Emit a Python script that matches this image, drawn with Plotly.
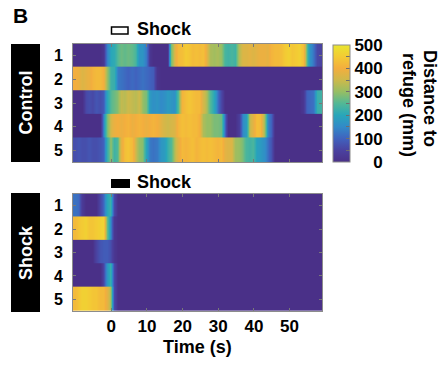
import plotly.graph_objects as go

# ---- data: distance to refuge (mm), 1-s bins, first bin centred at -10.25 s ----
row_labels = ["1", "2", "3", "4", "5"]
time_ticks = [0, 10, 20, 30, 40, 50]
cbar_ticks = [0, 50, 100, 150, 200, 250, 300, 350, 400, 450, 500]

control_1 = [0, 0, 0, 0, 0, 0, 0, 0, 20, 140, 200, 210, 250, 270, 260, 270, 260, 240, 170, 170,
             130, 20, 0, 0, 0, 0, 0, 280, 370, 420, 430, 450, 440, 420, 430, 420, 430, 380, 320, 310,
             320, 300, 240, 230, 240, 230, 330, 370, 370, 380, 370, 380, 390, 390, 380, 410, 420, 420, 430, 450,
             460, 440, 450, 460, 430, 260, 160, 120, 60, 50]
control_2 = [400, 390, 370, 380, 390, 410, 420, 420, 400, 300, 230, 220, 130, 120, 110, 100, 110, 100, 110, 120,
             110, 100, 90, 10, 0, 0, 0, 0, 0, 0, 0, 0, 0, 0, 0, 0, 0, 0, 0, 0,
             0, 0, 0, 0, 0, 0, 0, 0, 0, 0, 0, 0, 0, 0, 0, 0, 0, 0, 0, 0,
             0, 0, 0, 0, 0, 0, 0, 0, 0, 0]
control_3 = [0, 0, 0, 60, 70, 60, 80, 70, 90, 200, 250, 270, 290, 340, 330, 350, 340, 330, 350, 300,
             280, 180, 160, 170, 150, 160, 180, 170, 160, 250, 410, 430, 440, 430, 420, 420, 360, 320, 250, 200,
             120, 60, 0, 0, 0, 0, 0, 0, 0, 0, 0, 0, 0, 0, 0, 0, 0, 0, 0, 0,
             0, 0, 0, 0, 20, 100, 110, 120, 220, 230]
control_4 = [0, 0, 0, 0, 0, 0, 0, 0, 150, 280, 360, 390, 400, 390, 400, 410, 390, 400, 410, 400,
             390, 400, 410, 400, 380, 360, 350, 360, 370, 410, 430, 420, 430, 420, 420, 400, 320, 300, 300, 280,
             280, 270, 120, 0, 0, 0, 40, 150, 180, 340, 380, 430, 420, 320, 150, 100, 0, 0, 0, 0,
             0, 0, 0, 0, 0, 0, 0, 0, 0, 0]
control_5 = [70, 80, 70, 70, 80, 70, 70, 80, 100, 220, 300, 230, 250, 380, 430, 440, 420, 350, 300, 290,
             200, 130, 120, 130, 170, 180, 220, 250, 330, 380, 420, 410, 420, 430, 410, 420, 430, 420, 430, 420,
             410, 420, 380, 370, 370, 310, 300, 280, 240, 230, 240, 190, 180, 160, 120, 80, 0, 0, 0, 0,
             0, 0, 0, 0, 0, 0, 0, 0, 0, 0]

zeros_58 = [0] * 58
shock_1 = [120, 110, 30, 0, 0, 0, 0, 60, 110, 200, 230, 60] + zeros_58
shock_2 = [420, 440, 450, 460, 440, 440, 450, 460, 470, 260, 150, 20] + zeros_58
shock_3 = [0, 0, 0, 0, 0, 0, 50, 80, 90, 90, 70, 20] + zeros_58
shock_4 = [0, 0, 0, 0, 0, 0, 0, 0, 60, 170, 230, 60] + zeros_58
shock_5 = [420, 440, 460, 460, 450, 440, 440, 420, 420, 380, 310, 60] + zeros_58

control_rows = [control_1, control_2, control_3, control_4, control_5]
shock_rows = [shock_1, shock_2, shock_3, shock_4, shock_5]

W, H = 442, 365
def px(x):
    return x / W
def py(y):
    return (H - y) / H

parula = [
    [0.0, "rgb(74,48,136)"],
    [0.1, "rgb(74,66,160)"],
    [0.2, "rgb(64,98,190)"],
    [0.3, "rgb(50,138,200)"],
    [0.4, "rgb(40,166,186)"],
    [0.5, "rgb(82,184,150)"],
    [0.6, "rgb(150,190,100)"],
    [0.7, "rgb(205,185,75)"],
    [0.8, "rgb(243,174,62)"],
    [0.9, "rgb(243,203,52)"],
    [1.0, "rgb(233,230,48)"],
]

fig = go.Figure()
for rows, xa, ya in [(control_rows, "x", "y"), (shock_rows, "x2", "y2")]:
    for i, vals in enumerate(rows):
        fig.add_trace(go.Heatmap(
            z=[vals, vals], x0=-10.25, dx=1, y0=i + 1 - 0.27, dy=0.54,
            zsmooth="best", coloraxis="coloraxis", xaxis=xa, yaxis=ya,
            hoverinfo="skip"))

axis_common = dict(showline=True, linecolor="rgb(140,140,140)", linewidth=1, mirror="ticks",
                   ticks="inside", ticklen=3, tickcolor="rgb(120,120,120)", showgrid=False,
                   zeroline=False, automargin=False, layer="above traces")
xdom = [px(73), px(322)]
fig.update_layout(
    width=W, height=H, margin=dict(l=0, r=0, t=0, b=0, autoexpand=False),
    plot_bgcolor="white", paper_bgcolor="white",
    font=dict(family="Liberation Sans, Arial", color="black"),
    showlegend=False,
    xaxis=dict(domain=xdom, range=[-10.75, 59.1], tickvals=time_ticks, showticklabels=False,
               anchor="y", **axis_common),
    yaxis=dict(domain=[py(162), py(44)], range=[5.5, 0.5], tickvals=[1, 2, 3, 4, 5],
               ticktext=row_labels, anchor="x", ticklabelstandoff=6,
               tickfont=dict(size=16, weight="bold"), **axis_common),
    xaxis2=dict(domain=xdom, range=[-10.75, 59.1], tickvals=time_ticks, anchor="y2",
                tickfont=dict(size=17, weight="bold"), **axis_common),
    yaxis2=dict(domain=[py(311), py(194)], range=[5.5, 0.5], tickvals=[1, 2, 3, 4, 5],
                ticktext=row_labels, anchor="x2", ticklabelstandoff=6,
                tickfont=dict(size=16, weight="bold"), **axis_common),
    coloraxis=dict(
        cmin=0, cmax=500, colorscale=parula,
        colorbar=dict(
            x=px(333), xanchor="left", y=py(45), yanchor="top",
            thickness=17, thicknessmode="pixels", len=117, lenmode="pixels",
            outlinewidth=1, outlinecolor="rgb(140,140,140)",
            ticks="inside", ticklen=4, tickcolor="rgb(110,110,110)",
            tickvals=cbar_ticks,
            ticktext=["\u2007\u20070", "", "100", "", "200", "", "300", "", "400", "", "500"],
            tickfont=dict(size=17, weight="bold"),
            xpad=0, ypad=0,
        ),
    ),
)

shapes = [
    dict(type="rect", xref="paper", yref="paper", x0=px(11), x1=px(40), y0=py(162), y1=py(44),
         fillcolor="black", line=dict(width=0)),
    dict(type="rect", xref="paper", yref="paper", x0=px(11), x1=px(40), y0=py(312), y1=py(193),
         fillcolor="black", line=dict(width=0)),
    dict(type="rect", xref="paper", yref="paper", x0=px(111.5), x1=px(128), y0=py(34), y1=py(27),
         fillcolor="white", line=dict(color="black", width=1.5)),
    dict(type="rect", xref="paper", yref="paper", x0=px(111), x1=px(130), y0=py(188), y1=py(179),
         fillcolor="black", line=dict(width=0)),
]
fig.update_layout(shapes=shapes)

def ann(text, x, y, size, color="black", angle=0, xanchor="center"):
    fig.add_annotation(text=text, x=px(x), y=py(y), xref="paper", yref="paper", showarrow=False,
                       font=dict(size=size, color=color, weight="bold"), textangle=angle,
                       xanchor=xanchor, yanchor="middle")

ann("B", 11, 15, 21, xanchor="left")
ann("Control", 25.5, 103, 18, color="white", angle=-90)
ann("Shock", 25.5, 252.5, 18, color="white", angle=-90)
ann("Shock", 135, 29, 18, xanchor="left")
ann("Shock", 135, 182, 18, xanchor="left")
ann("Time (s)", 197, 347, 18)
ann("Distance to", 430, 98, 18, angle=90)
ann("refuge (mm)", 409, 105, 18, angle=90)

fig.write_html("out.html", config={"displayModeBar": False},
               post_script="document.body.style.margin='0';document.body.style.overflow='hidden';")
